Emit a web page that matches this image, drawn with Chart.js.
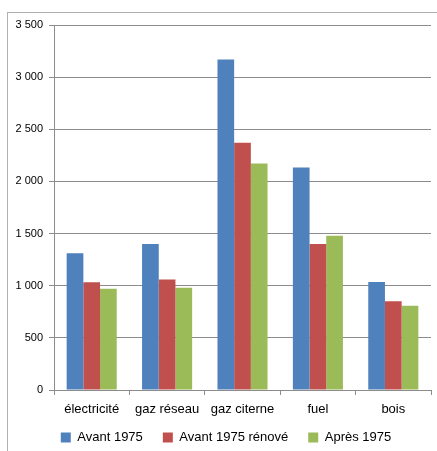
<!DOCTYPE html>
<html>
<head>
<meta charset="utf-8">
<script src="https://cdn.jsdelivr.net/npm/chart.js@4/dist/chart.umd.min.js"></script>
<style>
  html, body { margin: 0; padding: 0; background: #fff; }
  #wrap { position: relative; width: 437px; height: 451px; overflow: hidden; }
  #frame { position: absolute; left: 7px; top: 12px; width: 460px; height: 470px;
           border-left: 1px solid #b0b0b0; border-top: 1px solid #b0b0b0; }
  canvas { position: absolute; left: 0; top: 0; }
</style>
</head>
<body>
<div id="wrap">
  <div id="frame"></div>
  <canvas id="c" width="437" height="451"></canvas>
</div>
<script>
const categories = ["électricité", "gaz réseau", "gaz citerne", "fuel", "bois"];
const seriesNames = ["Avant 1975", "Avant 1975 rénové", "Après 1975"];
const avant1975 = [1312, 1400, 3168, 2133, 1035];
const avant1975Renove = [1034, 1060, 2370, 1400, 852];
const apres1975 = [971, 980, 2171, 1480, 807];
const yTicks = [0, 500, 1000, 1500, 2000, 2500, 3000, 3500];

const colors = ["#4F81BD", "#C0504D", "#9BBB59"];
const font = "'Liberation Sans', Arial, sans-serif";

function fmt(v) {
  return String(v).replace(/\B(?=(\d{3})+(?!\d))/g, " ");
}

const shiftLegend = {
  id: "shiftLegend",
  afterLayout(chart) {
    if (chart.legend) { chart.legend.left += 21; chart.legend.top -= 9; }
  }
};

new Chart(document.getElementById("c"), {
  type: "bar",
  data: {
    labels: categories,
    datasets: [
      { label: seriesNames[0], data: avant1975, backgroundColor: colors[0] },
      { label: seriesNames[1], data: avant1975Renove, backgroundColor: colors[1] },
      { label: seriesNames[2], data: apres1975, backgroundColor: colors[2] }
    ]
  },
  plugins: [shiftLegend],
  options: {
    responsive: false,
    animation: false,
    devicePixelRatio: 1,
    layout: { padding: { left: 0, right: 6, top: 25, bottom: 0 } },
    datasets: { bar: { categoryPercentage: 0.664, barPercentage: 1.0, borderWidth: 0 } },
    plugins: {
      tooltip: { enabled: false },
      legend: {
        position: "bottom",
        maxHeight: 31,
        labels: {
          boxWidth: 10, boxHeight: 10, padding: 20,
          color: "#000",
          font: { family: font, size: 13 }
        }
      }
    },
    scales: {
      x: {
        afterFit: (s) => { s.height = 30; },
        grid: { offset: true, drawOnChartArea: false, drawTicks: true, tickLength: 5, color: "#8c8c8c" },
        border: { display: true, color: "#8c8c8c", width: 1 },
        ticks: { color: "#000", padding: 7, font: { family: font, size: 13 }, maxRotation: 0, autoSkip: false }
      },
      y: {
        min: 0, max: 3500,
        afterFit: (s) => { s.width = 54; },
        afterBuildTicks: (s) => { s.ticks = yTicks.map(v => ({ value: v })); },
        grid: { color: "#8c8c8c", tickLength: 5, drawTicks: true },
        border: { display: true, color: "#8c8c8c", width: 1 },
        ticks: { color: "#000", padding: 6, font: { family: font, size: 11 }, callback: (v) => fmt(v) }
      }
    }
  }
});
</script>
</body>
</html>
